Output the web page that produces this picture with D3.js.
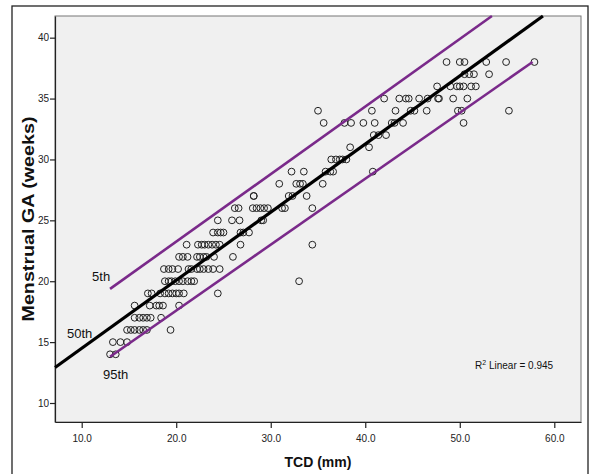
<!DOCTYPE html>
<html>
<head>
<meta charset="utf-8">
<script src="https://cdn.jsdelivr.net/npm/d3@7"></script>
<style>
  body { margin: 0; background: #fff; }
  svg { display: block; font-family: "Liberation Sans", Arial, sans-serif; }
  .tick text { font-size: 10px; fill: #222; }
  .axis-title { font-size: 14px; font-weight: bold; fill: #111; }
  .pct-label { font-size: 13px; fill: #111; }
</style>
</head>
<body>
<script>
var weeks = [14, 15, 16, 17, 18, 19, 20, 21, 22, 23, 24, 25, 26, 27, 28, 29, 30, 31, 32, 33, 34, 35, 36, 37, 38];
var tcdByWeek = [
  [13.0, 13.6],
  [13.3, 14.1, 14.8],
  [14.8, 15.2, 15.6, 16.1, 16.5, 16.9, 19.4],
  [15.6, 16.1, 16.5, 16.9, 17.3, 18.4],
  [15.6, 17.2, 17.9, 18.2, 18.6, 20.3],
  [17.0, 17.4, 18.3, 18.8, 19.2, 19.6, 20.0, 20.3, 20.8, 24.4],
  [18.8, 19.2, 19.5, 19.9, 20.3, 20.7, 21.2, 21.6, 21.9, 33.0],
  [18.7, 19.2, 19.6, 20.2, 21.3, 21.6, 22.2, 22.5, 22.9, 23.4, 23.9, 24.6],
  [20.3, 20.7, 21.2, 22.2, 22.5, 22.9, 23.2, 24.0, 26.0],
  [21.1, 22.3, 22.7, 23.0, 23.4, 23.8, 24.2, 24.6, 26.8, 34.4],
  [23.9, 24.4, 24.7, 25.0, 26.8, 27.1, 27.7],
  [24.4, 25.9, 26.7, 29.0, 29.2],
  [26.2, 26.6, 28.1, 28.5, 28.9, 29.3, 29.7, 31.2, 31.5, 34.4],
  [28.2, 28.2, 31.9, 32.3, 33.8],
  [30.9, 32.7, 33.1, 33.4, 35.5],
  [32.2, 33.5, 35.8, 36.3, 36.6, 40.8],
  [36.4, 36.9, 37.3, 37.6, 38.0],
  [38.4, 40.4],
  [40.9, 41.4, 42.2],
  [35.6, 37.8, 38.5, 39.8, 41.0, 42.8, 43.1, 44.0, 50.4],
  [35.0, 40.7, 43.2, 44.8, 45.2, 46.5, 49.8, 50.2, 55.2],
  [42.0, 43.6, 44.3, 44.6, 45.7, 46.6, 47.7, 47.8, 49.3, 50.8],
  [47.6, 49.0, 49.7, 50.0, 50.4, 51.2, 51.7],
  [50.5, 51.0, 51.5, 53.1],
  [48.6, 50.0, 50.5, 52.8, 54.9, 57.9]
];

// percentile lines: end points in data units
var lineNames = ["5th", "50th", "95th"];
var lineTCD = [[13.0, 53.4], [7.18, 58.8], [13.0, 57.7]];
var lineGA = [[19.37, 41.78], [12.91, 41.78], [13.8, 38.0]];
var lineColors = ["#7a2a8a", "#000", "#7a2a8a"];

var xTicks = [10, 20, 30, 40, 50, 60];
var yTicks = [10, 15, 20, 25, 30, 35, 40];
var rSquared = "0.945";

var svgWidth = 590;
var svgHeight = 474;

var margin = { top: 16, right: 9, bottom: 52, left: 55 };
var chartWidth = svgWidth - margin.left - margin.right;
var chartHeight = svgHeight - margin.top - margin.bottom;

var svg = d3.select("body")
  .append("svg")
  .attr("width", svgWidth)
  .attr("height", svgHeight);

// outer frame
svg.append("rect")
  .attr("x", 12).attr("y", 6)
  .attr("width", 576).attr("height", 490)
  .attr("fill", "none")
  .attr("stroke", "#222")
  .attr("stroke-width", 1.3);

var chartGroup = svg.append("g")
  .attr("transform", `translate(${margin.left}, ${margin.top})`);

var xScale = d3.scaleLinear()
  .domain([7.175, 62.825])
  .range([0, chartWidth]);

var yScale = d3.scaleLinear()
  .domain([8.44, 41.78])
  .range([chartHeight, 0]);

// plot background + grey border
chartGroup.append("rect")
  .attr("width", chartWidth)
  .attr("height", chartHeight)
  .attr("fill", "#f0f0f0")
  .attr("stroke", "#777")
  .attr("stroke-width", 1);

var bottomAxis = d3.axisBottom(xScale).tickValues(xTicks).tickFormat(d3.format(".1f")).tickSize(6).tickSizeOuter(0);
var leftAxis = d3.axisLeft(yScale).tickValues(yTicks).tickSize(5).tickSizeOuter(0);

var gx = chartGroup.append("g")
  .attr("transform", `translate(0, ${chartHeight})`)
  .call(bottomAxis);
gx.select(".domain").attr("stroke", "#222").attr("stroke-width", 1.2);
gx.selectAll(".tick line").attr("stroke", "#222").attr("stroke-width", 1.2);
gx.selectAll(".tick text").attr("dy", "1.1em");

var gy = chartGroup.append("g").call(leftAxis);
gy.select(".domain").attr("stroke", "#222").attr("stroke-width", 1.2);
gy.selectAll(".tick line").attr("stroke", "#222").attr("stroke-width", 1.2);
gy.selectAll(".tick text").attr("x", -6);

// flatten the scatter rows
var points = [];
weeks.forEach(function(w, i) {
  tcdByWeek[i].forEach(function(t) { points.push({ tcd: t, ga: w }); });
});

chartGroup.selectAll(".pt")
  .data(points)
  .enter()
  .append("circle")
  .attr("class", "pt")
  .attr("cx", d => xScale(d.tcd))
  .attr("cy", d => yScale(d.ga))
  .attr("r", 3.4)
  .attr("fill", "none")
  .attr("stroke", "#222")
  .attr("stroke-width", 1);

// percentile lines
lineNames.forEach(function(name, i) {
  chartGroup.append("line")
    .attr("x1", xScale(lineTCD[i][0]))
    .attr("y1", yScale(lineGA[i][0]))
    .attr("x2", xScale(lineTCD[i][1]))
    .attr("y2", yScale(lineGA[i][1]))
    .attr("stroke", lineColors[i])
    .attr("stroke-width", i == 1 ? 3.2 : 2.6);
});

// line labels
chartGroup.append("text").attr("class", "pct-label")
  .attr("x", xScale(lineTCD[0][0]) - 18).attr("y", yScale(lineGA[0][0]) - 8)
  .text(lineNames[0]);
chartGroup.append("text").attr("class", "pct-label")
  .attr("x", 12).attr("y", yScale(lineGA[1][0]) - 30)
  .text(lineNames[1]);
chartGroup.append("text").attr("class", "pct-label")
  .attr("x", xScale(lineTCD[2][0]) - 7).attr("y", yScale(lineGA[2][0]) + 22)
  .text(lineNames[2]);

// R squared note
var rText = chartGroup.append("text")
  .attr("x", 420).attr("y", 353)
  .attr("font-size", "10px")
  .attr("fill", "#111");
rText.append("tspan").text("R");
rText.append("tspan").attr("font-size", "7px").attr("dy", -4).text("2");
rText.append("tspan").attr("dy", 4).text(" Linear = " + rSquared);

// axis titles
chartGroup.append("text")
  .attr("class", "axis-title")
  .attr("text-anchor", "middle")
  .attr("x", chartWidth / 2)
  .attr("y", chartHeight + 45)
  .text("TCD (mm)");

chartGroup.append("text")
  .attr("class", "axis-title")
  .attr("text-anchor", "middle")
  .attr("transform", "rotate(-90)")
  .attr("x", -chartHeight / 2)
  .attr("y", -21)
  .attr("textLength", 205)
  .attr("lengthAdjust", "spacingAndGlyphs")
  .style("font-size", "17px")
  .text("Menstrual GA (weeks)");
</script>
</body>
</html>
